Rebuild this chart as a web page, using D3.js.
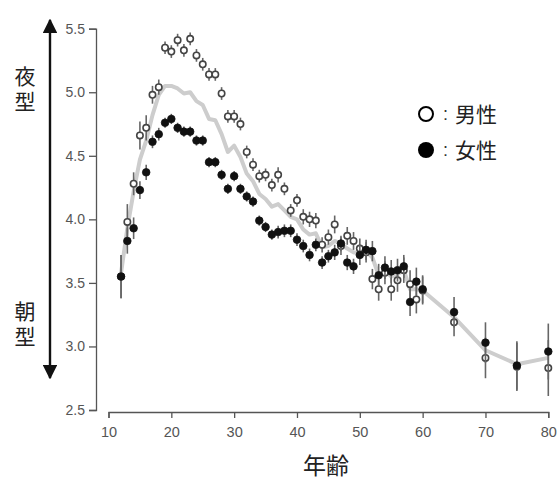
<!DOCTYPE html>
<html>
<head>
<meta charset="utf-8">
<script src="https://cdn.jsdelivr.net/npm/d3@7"></script>
<style>
  body { margin: 0; background: #fff; }
  svg { display: block; }
</style>
</head>
<body>
<div id="chart"></div>
<script>
// chronotype score by age, male (open) / female (filled) / overall mean (grey line)
const ages = [12, 13, 14, 15, 16, 17, 18, 19, 20, 21, 22, 23, 24, 25, 26, 27, 28, 29, 30,
  31, 32, 33, 34, 35, 36, 37, 38, 39, 40, 41, 42, 43, 44, 45, 46, 47, 48, 49, 50,
  51, 52, 53, 54, 55, 56, 57, 58, 59, 60, 65, 70, 75, 80];

const maleScore = [3.55, 3.98, 4.28, 4.66, 4.72, 4.98, 5.04, 5.35, 5.32, 5.41, 5.33, 5.42, 5.29, 5.22, 5.14, 5.14, 4.99, 4.81, 4.81,
  4.75, 4.53, 4.43, 4.34, 4.35, 4.27, 4.35, 4.24, 4.07, 4.15, 4.02, 4.00, 3.99, 3.80, 3.86, 3.96, 3.79, 3.87, 3.83, 3.77,
  3.74, 3.53, 3.45, 3.58, 3.45, 3.52, 3.60, 3.49, 3.37, 3.44, 3.19, 2.91, 2.84, 2.83];
const maleErr = [0.17, 0.14, 0.09, 0.11, 0.10, 0.07, 0.06, 0.05, 0.05, 0.05, 0.05, 0.05, 0.05, 0.05, 0.05, 0.05, 0.05, 0.05, 0.05,
  0.05, 0.05, 0.05, 0.05, 0.05, 0.05, 0.06, 0.05, 0.05, 0.05, 0.06, 0.06, 0.06, 0.06, 0.06, 0.07, 0.07, 0.07, 0.07, 0.08,
  0.08, 0.08, 0.09, 0.09, 0.09, 0.09, 0.10, 0.11, 0.11, 0.11, 0.11, 0.16, 0.19, 0.22];

const femaleScore = [3.55, 3.83, 3.93, 4.23, 4.37, 4.61, 4.67, 4.76, 4.79, 4.72, 4.69, 4.69, 4.62, 4.62, 4.45, 4.45, 4.35, 4.24, 4.34,
  4.24, 4.18, 4.14, 3.99, 3.94, 3.88, 3.90, 3.91, 3.91, 3.84, 3.79, 3.72, 3.80, 3.66, 3.71, 3.74, 3.81, 3.66, 3.63, 3.72,
  3.76, 3.75, 3.56, 3.62, 3.59, 3.60, 3.63, 3.35, 3.51, 3.45, 3.27, 3.03, 2.85, 2.96];
const femaleErr = [0.17, 0.10, 0.085, 0.07, 0.06, 0.05, 0.05, 0.04, 0.04, 0.04, 0.04, 0.04, 0.04, 0.04, 0.04, 0.04, 0.04, 0.04, 0.04,
  0.04, 0.04, 0.04, 0.04, 0.04, 0.04, 0.05, 0.05, 0.05, 0.05, 0.05, 0.05, 0.05, 0.05, 0.05, 0.06, 0.06, 0.06, 0.06, 0.08,
  0.08, 0.08, 0.09, 0.09, 0.09, 0.09, 0.09, 0.11, 0.11, 0.11, 0.12, 0.16, 0.19, 0.22];

const meanScore = [3.58, 3.93, 4.22, 4.47, 4.62, 4.82, 4.98, 5.05, 5.05, 5.03, 4.99, 5.00, 4.93, 4.90, 4.79, 4.78, 4.67, 4.53, 4.58,
  4.49, 4.36, 4.30, 4.20, 4.16, 4.10, 4.12, 4.07, 4.02, 4.00, 3.92, 3.88, 3.89, 3.78, 3.79, 3.83, 3.81, 3.77, 3.74, 3.74,
  3.75, 3.70, 3.56, 3.60, 3.55, 3.57, 3.60, 3.45, 3.45, 3.44, 3.23, 2.97, 2.86, 2.91];

const xTicks = [10, 20, 30, 40, 50, 60, 70, 80];
const yTicks = [2.5, 3.0, 3.5, 4.0, 4.5, 5.0, 5.5];
const legendLabels = ['男性', '女性'];
const xTitle = '年齢';
const upLabel = '夜型';
const downLabel = '朝型';

const W = 558, H = 486;
const numFont = '"Liberation Sans", Arial, sans-serif';
const cjkFont = '"Noto Sans CJK JP", "Noto Sans CJK SC", sans-serif';
const axisGrey = '#555';

const svg = d3.select('#chart').append('svg')
  .attr('width', W).attr('height', H);

const x = d3.scaleLinear().domain([10, 80]).range([108.5, 548.3]);
const y = d3.scaleLinear().domain([2.5, 5.5]).range([410, 28.7]);

// y axis
const yAxis = svg.append('g')
  .attr('transform', 'translate(96,0)')
  .call(d3.axisLeft(y).tickValues(yTicks).tickFormat(d3.format('.1f')).tickSizeOuter(0).tickSize(7).tickPadding(4));
yAxis.select('.domain').attr('stroke', axisGrey).attr('stroke-width', 1.3);
yAxis.selectAll('.tick line').attr('stroke', axisGrey).attr('stroke-width', 1.3);
yAxis.selectAll('.tick text').attr('fill', axisGrey)
  .style('font-family', numFont).style('font-size', '14px');

// x axis (detached, slightly below)
const xAxis = svg.append('g')
  .attr('transform', 'translate(0,412)')
  .call(d3.axisBottom(x).tickValues(xTicks).tickSizeOuter(0).tickSize(6).tickPadding(9));
xAxis.select('.domain').attr('stroke', axisGrey).attr('stroke-width', 1.3);
xAxis.selectAll('.tick line').attr('stroke', axisGrey).attr('stroke-width', 1.3);
xAxis.selectAll('.tick text').attr('fill', axisGrey)
  .style('font-family', numFont).style('font-size', '14.5px');

svg.append('text')
  .attr('x', 326).attr('y', 474)
  .attr('text-anchor', 'middle')
  .style('font-family', cjkFont).style('font-size', '23px')
  .attr('fill', '#222')
  .text(xTitle);

// double arrow on the left (night type / morning type)
const defs = svg.append('defs');
defs.append('marker')
  .attr('id', 'ah')
  .attr('viewBox', '0 0 10 10')
  .attr('refX', 9).attr('refY', 5)
  .attr('markerWidth', 6).attr('markerHeight', 6)
  .attr('markerUnits', 'strokeWidth')
  .attr('orient', 'auto-start-reverse')
  .append('path').attr('d', 'M0,0L10,5L0,10Z').attr('fill', '#111');

svg.append('line')
  .attr('x1', 50).attr('x2', 50)
  .attr('y1', 20).attr('y2', 378)
  .attr('stroke', '#111').attr('stroke-width', 2.4)
  .attr('marker-start', 'url(#ah)')
  .attr('marker-end', 'url(#ah)');

// vertical side labels, one text each
const sideLabel = (label, y0) => {
  svg.append('text')
    .attr('x', 25).attr('y', y0)
    .style('writing-mode', 'vertical-rl')
    .style('letter-spacing', '4px')
    .style('font-family', cjkFont).style('font-size', '21px')
    .attr('fill', '#222')
    .text(label);
};
sideLabel(upLabel, 66);
sideLabel(downLabel, 301);

// mean line
const meanData = ages.map((a, i) => ({ age: a, v: meanScore[i] }));
svg.append('path')
  .datum(meanData)
  .attr('fill', 'none')
  .attr('stroke', '#cdcdcd')
  .attr('stroke-width', 4)
  .attr('stroke-linejoin', 'round')
  .attr('d', d3.line().x(d => x(d.age)).y(d => y(d.v)));

const male = ages.map((a, i) => ({ age: a, v: maleScore[i], e: maleErr[i] }));
const female = ages.map((a, i) => ({ age: a, v: femaleScore[i], e: femaleErr[i] }));

const drawSeries = (data, cls, filled) => {
  const g = svg.append('g').attr('class', cls);
  g.selectAll('line')
    .data(data)
    .join('line')
      .attr('x1', d => x(d.age)).attr('x2', d => x(d.age))
      .attr('y1', d => y(d.v - d.e)).attr('y2', d => y(d.v + d.e))
      .attr('stroke', '#666').attr('stroke-width', 1.6);
  g.selectAll('circle')
    .data(data)
    .join('circle')
      .attr('cx', d => x(d.age)).attr('cy', d => y(d.v))
      .attr('r', filled ? 3.8 : 3.2)
      .attr('fill', filled ? '#111' : '#fff')
      .attr('stroke', filled ? '#111' : '#444')
      .attr('stroke-width', filled ? 0.8 : 1.6);
};
drawSeries(male, 'male', false);
drawSeries(female, 'female', true);

// legend
const legend = svg.append('g');
[0, 1].forEach(i => {
  const cy = 114 + i * 36;
  legend.append('circle')
    .attr('cx', 426).attr('cy', cy).attr('r', i === 0 ? 7 : 8)
    .attr('fill', i === 0 ? '#fff' : '#000')
    .attr('stroke', '#000').attr('stroke-width', i === 0 ? 2 : 0);
  legend.append('text')
    .attr('x', 443).attr('y', cy + 6)
    .style('font-family', numFont).style('font-size', '18px')
    .attr('fill', '#333')
    .text(':');
  legend.append('text')
    .attr('x', 455).attr('y', cy + 8)
    .style('font-family', cjkFont).style('font-size', '21px')
    .attr('fill', '#222')
    .text(legendLabels[i]);
});
</script>
</body>
</html>
